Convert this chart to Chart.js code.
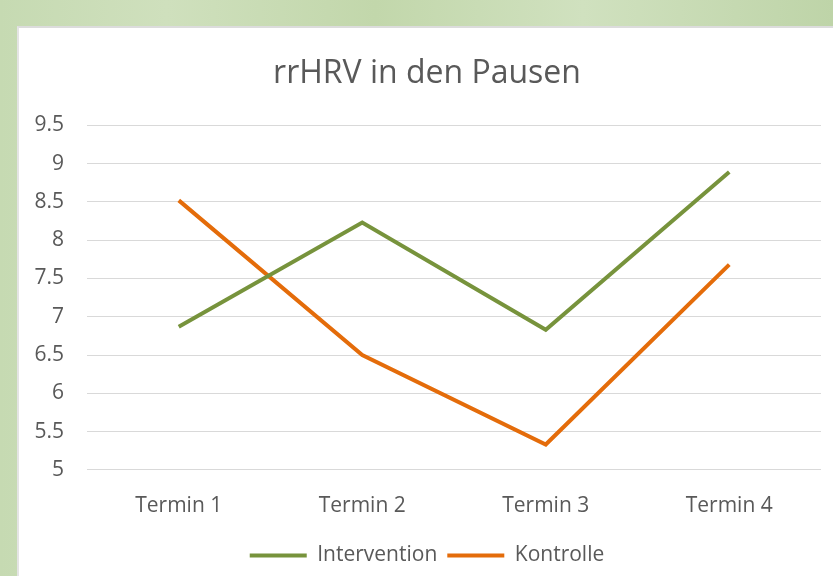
<!DOCTYPE html>
<html>
<head>
<meta charset="utf-8">
<script src="https://cdn.jsdelivr.net/npm/chart.js@4"></script>
<style>
  html, body { margin: 0; padding: 0; }
  body {
    width: 833px; height: 576px; overflow: hidden; position: relative;
    background: linear-gradient(90deg, #c6dab2 0%, #cfe0bd 20%, #c2d7ab 45%, #d0e1bf 70%, #bed4a8 100%);
  }
  #card {
    position: absolute; left: 17px; top: 26px; width: 816px; height: 550px;
    background: #ffffff; border-top: 2px solid #dcdcdc; border-left: 2px solid #e4e4e4;
    box-sizing: border-box;
  }
  #card canvas { display: block; }
</style>
</head>
<body>
<div id="card"><canvas id="rrChart" width="814" height="548"></canvas></div>
<script>
const categories = ['Termin 1', 'Termin 2', 'Termin 3', 'Termin 4'];
const intervention = [6.87, 8.23, 6.83, 8.89];
const kontrolle = [8.52, 6.5, 5.33, 7.68];

const textColor = '#595959';
const fontFamily = '"Open Sans", "Noto Sans", sans-serif';

new Chart(document.getElementById('rrChart'), {
  type: 'line',
  data: {
    labels: categories,
    datasets: [
      {
        label: 'Intervention',
        data: intervention,
        borderColor: '#77933c',
        backgroundColor: '#77933c',
        borderWidth: 4,
        pointRadius: 0,
        tension: 0
      },
      {
        label: 'Kontrolle',
        data: kontrolle,
        borderColor: '#e46c0a',
        backgroundColor: '#e46c0a',
        borderWidth: 4,
        pointRadius: 0,
        tension: 0
      }
    ]
  },
  options: {
    responsive: false,
    animation: false,
    layout: { padding: { left: 14, right: 12, top: 0, bottom: 0 } },
    plugins: {
      title: {
        display: true,
        text: 'rrHRV in den Pausen',
        color: textColor,
        font: { family: fontFamily, size: 32, weight: 'normal' },
        padding: { top: 27, bottom: 32 }
      },
      legend: {
        position: 'bottom',
        labels: {
          color: textColor,
          font: { family: fontFamily, size: 21 },
          usePointStyle: true,
          pointStyle: 'line',
          pointStyleWidth: 57,
          padding: 10
        }
      },
      tooltip: { enabled: false }
    },
    scales: {
      x: {
        offset: true,
        grid: { display: false },
        border: { display: false },
        ticks: { color: textColor, font: { family: fontFamily, size: 21 }, padding: 16 }
      },
      y: {
        min: 5,
        max: 9.5,
        // fixed axis width: labels fit, plot starts where the original does
        afterFit: scale => { scale.width = 54; },
        ticks: {
          stepSize: 0.5,
          color: textColor,
          font: { family: fontFamily, size: 21 },
          padding: 23,
          callback: v => String(Number(v.toFixed(1)))
        },
        grid: { color: '#d9d9d9', lineWidth: 1, drawTicks: false },
        border: { display: false }
      }
    }
  }
});
</script>
</body>
</html>
